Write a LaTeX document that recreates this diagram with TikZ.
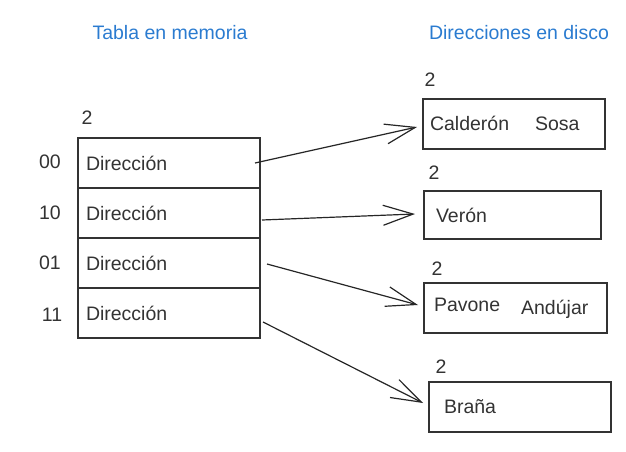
\documentclass[tikz,border=0pt]{standalone}
\usepackage{fontspec}
\setmainfont{Liberation Sans}
\usetikzlibrary{arrows.meta}
\definecolor{hdrblue}{HTML}{2A7BD0}
\definecolor{ink}{HTML}{333333}
\begin{document}
\begin{tikzpicture}[x=1pt,y=-1pt,
  every node/.style={font=\fontsize{19.5}{23}\selectfont, text=ink},
  row/.style={draw=ink, line width=2pt, minimum width=182pt, minimum height=50pt,
    text width=166pt, inner xsep=8pt, align=left},
  diskbox/.style={draw=ink, line width=2pt, minimum height=50pt, align=left},
  hdr/.style={text=hdrblue},
  link/.style={draw=black!85, line width=1.2pt, -{Straight Barb[length=30pt,width=20pt,line width=1.2pt]}}
]
\useasboundingbox (0,0) rectangle (626,452);
% headers
\node[hdr] (h1) at (170,33) {Tabla en memoria};
\node[hdr] (h2) at (519,33) {Direcciones en disco};
% table
\node (gd) at (87,118) {2};
\node[row] (r1) at (169,163) {Dirección};
\node[row] (r2) at (169,213) {Dirección};
\node[row] (r3) at (169,263) {Dirección};
\node[row] (r4) at (169,313) {Dirección};
\node (k1) at (50,162) {00};
\node (k2) at (50,213) {10};
\node (k3) at (50,263) {01};
\node (k4) at (52,315) {11};
% disk buckets
\node (g1) at (430,80) {2};
\node[diskbox, minimum width=182pt, text width=168pt, inner xsep=7pt] (d1) at (514,123.5) {Calderón\hspace{26pt}Sosa};
\node (g2) at (434,173) {2};
\node[diskbox, minimum width=177pt, text width=153pt, inner xsep=12pt, minimum height=48pt] (d2) at (512.5,215) {Verón};
\node (g3) at (437,269) {2};
\node[diskbox, minimum width=183pt, text width=163pt, inner xsep=10pt] (d3) at (515.5,308) {Pavone\hspace{21pt}\raisebox{-3pt}{Andújar}};
\node (g4) at (441,367) {2};
\node[diskbox, minimum width=182pt, text width=152pt, inner xsep=15pt] (d4) at (520,407) {Braña};
% arrow start points
\coordinate (s1) at (255,163);
\coordinate (s2) at (262,220);
\coordinate (s3) at (267,264);
\coordinate (s4) at (263,322);
\coordinate (e1) at (417,127);
\coordinate (e2) at (415,214);
\coordinate (e3) at (418,305);
\coordinate (e4) at (423,403);
\draw[link] (s1) -- (e1);
\draw[link] (s2) -- (e2);
\draw[link] (s3) -- (e3);
\draw[link] (s4) -- (e4);
\end{tikzpicture}
\end{document}
